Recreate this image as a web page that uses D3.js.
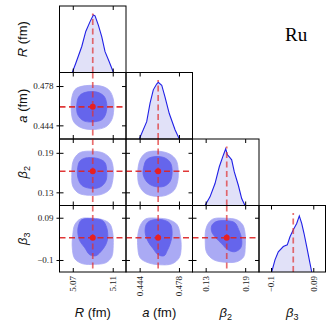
<!DOCTYPE html>
<meta charset="utf-8">
<script src="https://d3js.org/d3.v7.min.js"></script>
<style>body{margin:0;background:#fff}</style>
<div id="chart"></div>
<script>
// parameters: axis ranges, ticks, posterior means
const domains = [[5.0567, 5.1233], [0.4322, 0.4897], [0.110, 0.211], [-0.154, 0.145]]
const tickVals = [[5.07, 5.11], [0.444, 0.478], [0.13, 0.19], [-0.1, 0.09]]
const tickText = [["5.07", "5.11"], ["0.444", "0.478"], ["0.13", "0.19"], ["\u22120.1", "0.09"]]
const means = [5.09, 0.460, 0.162, 0.0]

// 1D marginals: [value, relative density]
const margR = [[5.0695,0],[5.0730,0.16],[5.0790,0.45],[5.0830,0.71],[5.0873,0.88],[5.0906,0.995],[5.0923,0.98],[5.0956,0.82],[5.0990,0.62],[5.1023,0.36],[5.1064,0.19],[5.1107,0]]
const margA = [[0.4437,0],[0.4501,0.30],[0.4530,0.62],[0.4558,0.85],[0.4587,0.95],[0.4601,0.98],[0.4631,0.93],[0.4659,0.73],[0.4696,0.44],[0.4746,0.16],[0.4783,0]]
const margB2 = [[0.129,0],[0.1366,0.15],[0.1442,0.38],[0.1507,0.67],[0.1568,0.87],[0.1604,0.98],[0.1629,0.88],[0.1659,0.84],[0.1695,0.79],[0.1735,0.58],[0.1796,0.35],[0.1847,0.12],[0.1897,0]]
const margB3 = [[-0.0969,0],[-0.0821,0.21],[-0.0672,0.35],[-0.0447,0.44],[-0.0268,0.47],[-0.0146,0.61],[0.0002,0.73],[0.0155,0.84],[0.0272,0.97],[0.038,0.84],[0.0483,0.67],[0.0605,0.44],[0.0753,0.15],[0.083,0]]

// 2D credible regions (outer = light, inner = dark), [x, y]
const raOuter = [[5.077,0.4773],[5.089,0.4786],[5.101,0.4773],[5.107,0.4738],[5.1105,0.4669],[5.111,0.4574],[5.109,0.4488],[5.103,0.4427],[5.092,0.4405],[5.079,0.4418],[5.071,0.4470],[5.0685,0.4565],[5.069,0.4678],[5.072,0.4747]]
const raInner = [[5.081,0.4721],[5.093,0.4730],[5.101,0.4695],[5.104,0.4626],[5.103,0.4539],[5.099,0.4488],[5.090,0.4470],[5.081,0.4479],[5.075,0.4531],[5.074,0.4617],[5.076,0.4687]]
const rb2Outer = [[5.078,0.1909],[5.090,0.1924],[5.101,0.1894],[5.108,0.1802],[5.1105,0.1666],[5.110,0.1483],[5.107,0.1346],[5.099,0.1270],[5.087,0.1255],[5.076,0.1286],[5.070,0.1392],[5.069,0.1574],[5.070,0.1757],[5.073,0.1848]]
const rb2Inner = [[5.082,0.1818],[5.094,0.1818],[5.102,0.1757],[5.104,0.162],[5.103,0.1468],[5.097,0.1377],[5.087,0.1362],[5.079,0.1407],[5.075,0.1529],[5.075,0.1681],[5.077,0.1772]]
const rb3Outer = [[5.078,0.0855],[5.090,0.0878],[5.100,0.081],[5.107,0.063],[5.110,0.0225],[5.1105,-0.036],[5.109,-0.0855],[5.103,-0.1125],[5.092,-0.1193],[5.080,-0.117],[5.072,-0.0945],[5.0695,-0.045],[5.070,0.0135],[5.072,0.0585]]
const rb3Inner = [[5.079,0.081],[5.090,0.0855],[5.100,0.0765],[5.104,0.045],[5.105,0],[5.103,-0.0315],[5.098,-0.063],[5.093,-0.081],[5.087,-0.0765],[5.082,-0.045],[5.077,-0.0135],[5.075,0.027],[5.076,0.0585]]
const ab2Outer = [[0.4505,0.1909],[0.4609,0.1924],[0.4704,0.1878],[0.4756,0.1787],[0.4773,0.165],[0.4769,0.1468],[0.4738,0.1331],[0.4669,0.1255],[0.4574,0.124],[0.4488,0.1286],[0.4436,0.1407],[0.4423,0.1574],[0.4436,0.1757],[0.4462,0.1848]]
const ab2Inner = [[0.4539,0.1833],[0.4643,0.1833],[0.4704,0.1757],[0.4721,0.162],[0.4704,0.1468],[0.4652,0.1392],[0.4565,0.1392],[0.4505,0.1453],[0.4470,0.1574],[0.4479,0.1711],[0.4496,0.1787]]
const ab3Outer = [[0.4496,0.0855],[0.460,0.0878],[0.4695,0.081],[0.4764,0.0585],[0.4790,0.0135],[0.4799,-0.045],[0.4782,-0.09],[0.4721,-0.117],[0.4617,-0.1215],[0.4514,-0.1125],[0.4444,-0.09],[0.4423,-0.036],[0.4427,0.0225],[0.4453,0.063]]
const ab3Inner = [[0.4531,0.0765],[0.4635,0.081],[0.4704,0.063],[0.4721,0.018],[0.4704,-0.027],[0.4678,-0.0585],[0.4652,-0.081],[0.460,-0.0765],[0.4557,-0.0495],[0.4514,-0.018],[0.4488,0.0225],[0.4496,0.0585]]
const b2b3Outer = [[0.1422,0.0855],[0.1605,0.0878],[0.1772,0.081],[0.1863,0.0585],[0.1901,0.0135],[0.1901,-0.0405],[0.1878,-0.0855],[0.1772,-0.108],[0.159,-0.110],[0.1422,-0.099],[0.1316,-0.0675],[0.1293,-0.0135],[0.1301,0.036],[0.1346,0.0675]]
const b2b3Inner = [[0.1453,0.072],[0.162,0.0765],[0.1742,0.0675],[0.1802,0.036],[0.1848,-0.009],[0.1833,-0.045],[0.1742,-0.063],[0.1635,-0.054],[0.1544,-0.027],[0.1453,0],[0.1392,0.027],[0.1392,0.054]]

const marginals = [margR, margA, margB2, margB3]
const pairs = [
  {col: 0, row: 1, outer: raOuter, inner: raInner},
  {col: 0, row: 2, outer: rb2Outer, inner: rb2Inner},
  {col: 0, row: 3, outer: rb3Outer, inner: rb3Inner},
  {col: 1, row: 2, outer: ab2Outer, inner: ab2Inner},
  {col: 1, row: 3, outer: ab3Outer, inner: ab3Inner},
  {col: 2, row: 3, outer: b2b3Outer, inner: b2b3Inner}
]

const size = 66.5, marginLeft = 59.5, marginTop = 6
const lightBlue = "#aaaaf4", darkBlue = "#6565ec"
const serif = "'Liberation Serif', 'Times New Roman', serif"
const sans = "'Liberation Sans', Arial, sans-serif"

const svg = d3.select("#chart").append("svg")
  .attr("width", 332).attr("height", 332)

const xs = domains.map(d => d3.scaleLinear().domain(d).range([0, size]))
const ys = domains.map(d => d3.scaleLinear().domain(d).range([size, 0]))
const hScale = d3.scaleLinear().domain([0, 1.15]).range([size, 0])

function panel(col, row) {
  return svg.append("g").attr("transform", `translate(${marginLeft + col * size},${marginTop + row * size})`)
}

// inward ticks on an edge
function innerTicks(g, axis, tx, ty) {
  g.append("g").attr("transform", `translate(${tx},${ty})`)
    .call(axis.tickSize(4).tickFormat(""))
    .call(a => a.select(".domain").remove())
    .selectAll("line").attr("stroke", "#000").attr("stroke-width", 1)
}

function xTicks(g, c) {
  innerTicks(g, d3.axisBottom(xs[c]).tickValues(tickVals[c]), 0, 0)
  innerTicks(g, d3.axisTop(xs[c]).tickValues(tickVals[c]), 0, size)
}
function yTicks(g, r) {
  innerTicks(g, d3.axisRight(ys[r]).tickValues(tickVals[r]), 0, 0)
  innerTicks(g, d3.axisLeft(ys[r]).tickValues(tickVals[r]), size, 0)
}

function vDash(g, x, y0, y1) {
  g.append("line").attr("x1", x).attr("x2", x).attr("y1", y0).attr("y2", y1)
    .attr("stroke", "#e03030").attr("stroke-opacity", 0.7)
    .attr("stroke-width", 1.7).attr("stroke-dasharray", "6,3.5")
}
function frame(g) {
  g.append("rect").attr("width", size).attr("height", size)
    .attr("fill", "none").attr("stroke", "#000").attr("stroke-width", 1)
}

// diagonal panels
marginals.forEach((m, i) => {
  const g = panel(i, i)
  const x = xs[i]
  g.append("path").datum(m)
    .attr("d", d3.area().x(d => x(d[0])).y0(hScale(0)).y1(d => hScale(d[1])))
    .attr("fill", "#e1e1f8")
  g.append("path").datum(m)
    .attr("d", d3.line().x(d => x(d[0])).y(d => hScale(d[1])))
    .attr("fill", "none").attr("stroke", "#2020e6").attr("stroke-width", 1.1)
  vDash(g, x(means[i]), hScale(0), hScale(1.02))
  xTicks(g, i)
  frame(g)
})

// 2D panels
const blob = d3.line().curve(d3.curveCatmullRomClosed.alpha(0.5))
pairs.forEach(p => {
  const g = panel(p.col, p.row)
  const x = xs[p.col], y = ys[p.row]
  g.append("path").attr("d", blob(p.outer.map(d => [x(d[0]), y(d[1])])))
    .attr("fill", lightBlue).attr("stroke", lightBlue).attr("stroke-width", 0.8)
  g.append("path").attr("d", blob(p.inner.map(d => [x(d[0]), y(d[1])])))
    .attr("fill", darkBlue).attr("stroke", darkBlue).attr("stroke-width", 0.8)
  vDash(g, x(means[p.col]), 0, size)
  g.append("line").attr("x1", 0).attr("x2", size)
    .attr("y1", y(means[p.row])).attr("y2", y(means[p.row]))
    .attr("stroke", "#dd2222").attr("stroke-opacity", 0.9)
    .attr("stroke-width", 1.7).attr("stroke-dasharray", "6,3.5")
  g.append("circle").attr("cx", x(means[p.col])).attr("cy", y(means[p.row]))
    .attr("r", 3).attr("fill", "#e82020")
  xTicks(g, p.col)
  yTicks(g, p.row)
  frame(g)
})

// left tick labels (rows 1..3)
for (let r = 1; r < 4; r++) {
  svg.append("g").attr("transform", `translate(${marginLeft},${marginTop + r * size})`)
    .call(d3.axisLeft(ys[r]).tickValues(tickVals[r]).tickSize(3).tickPadding(3)
      .tickFormat((d, i) => tickText[r][i]))
    .call(a => a.select(".domain").remove())
    .call(a => a.selectAll("line").attr("stroke", "#000"))
    .call(a => a.selectAll("text").attr("font-family", serif).attr("font-size", 9).attr("fill", "#222"))
}
// bottom tick labels (rotated)
for (let c = 0; c < 4; c++) {
  svg.append("g").attr("transform", `translate(${marginLeft + c * size},${marginTop + 4 * size})`)
    .call(d3.axisBottom(xs[c]).tickValues(tickVals[c]).tickSize(0)
      .tickFormat((d, i) => tickText[c][i]))
    .call(a => a.select(".domain").remove())
    .call(a => a.selectAll("text")
      .attr("transform", "rotate(-90)").attr("x", -4).attr("y", 0).attr("dy", "0.32em")
      .attr("text-anchor", "end")
      .attr("font-family", serif).attr("font-size", 9).attr("fill", "#222"))
}

// axis titles
function title(t, kind) {
  if (kind === "fm") {
    t.append("tspan").attr("font-style", "italic").text(t.datum())
    t.append("tspan").text(" (fm)")
  } else {
    t.append("tspan").attr("font-style", "italic").text("\u03b2")
    t.append("tspan").attr("font-size", 9).attr("dy", 3).text(kind)
  }
}
const titleNames = ["R", "a", "2", "3"]
const titleKinds = ["fm", "fm", "2", "3"]
for (let i = 0; i < 4; i++) {
  const bt = svg.append("text").datum(titleNames[i])
    .attr("x", marginLeft + (i + 0.5) * size).attr("y", 317)
    .attr("text-anchor", "middle").attr("font-family", sans).attr("font-size", 13).attr("fill", "#111")
  title(bt, titleKinds[i])
  const lt = svg.append("text").datum(titleNames[i])
    .attr("transform", `translate(27,${marginTop + (i + 0.5) * size}) rotate(-90)`)
    .attr("text-anchor", "middle").attr("font-family", sans).attr("font-size", 13).attr("fill", "#111")
  title(lt, titleKinds[i])
}

svg.append("text").attr("x", 285).attr("y", 41)
  .attr("font-family", serif).attr("font-size", 19).attr("fill", "#000").text("Ru")
</script>
